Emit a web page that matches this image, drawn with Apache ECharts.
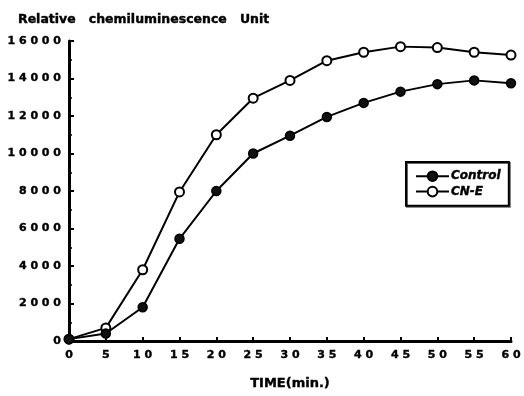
<!DOCTYPE html>
<html><head><meta charset="utf-8">
<script src="https://cdn.jsdelivr.net/npm/echarts@6/dist/echarts.min.js"></script>
<style>html,body{margin:0;padding:0;background:#fff}#c{width:524px;height:396px}</style>
</head><body><div id="c"></div>
<script>
var times = [0,5,10,15,20,25,30,35,40,45,50,55,60];
var control = [100,400,1800,5450,8000,10000,10950,11950,12700,13300,13700,13900,13750];
var cnE = [100,700,3800,7950,11000,12950,13900,14950,15400,15700,15650,15400,15250];
var seriesNames = ['Control','CN-E'];
var yTitle = 'Relative   chemiluminescence   Unit';
var xTitle = 'TIME(min.)';

function spaced(v){ return String(v).split('').join(' '); }
var font = 'DejaVu Sans';
var heavy = {fontFamily:font,fontWeight:'bold',color:'#000',textBorderColor:'#000',textBorderWidth:0.4};
function ts(extra){ var o={}; for(var k in heavy) o[k]=heavy[k]; for(var k2 in extra) o[k2]=extra[k2]; return o; }
var chart = echarts.init(document.getElementById('c'), null, {renderer:'canvas'});
chart.setOption({
  animation:false,
  backgroundColor:'#fff',
  grid:{left:69,right:13,top:41,bottom:55},
  title:{text:yTitle,left:13,top:8,textStyle:ts({fontSize:12.5})},
  legend:{
    left:406, top:162, orient:'vertical',
    padding:[8,8,8,9], itemGap:3, itemWidth:33, itemHeight:12,
    borderColor:'#000', borderWidth:2,
    shadowColor:'rgba(0,0,0,0.6)', shadowOffsetX:1, shadowOffsetY:1,
    textStyle:ts({fontStyle:'italic',fontSize:12,padding:[0,0,0,-3]}),
    data:seriesNames
  },
  xAxis:{
    type:'value', min:0, max:60, interval:5,
    name:xTitle, nameLocation:'middle', nameGap:36,
    nameTextStyle:ts({fontSize:13}),
    axisLine:{lineStyle:{color:'#000',width:3}},
    axisTick:{inside:true,length:4,lineStyle:{color:'#000',width:2}},
    axisLabel:ts({formatter:spaced,fontSize:11,margin:9}),
    splitLine:{show:false}
  },
  yAxis:{
    type:'value', min:0, max:16000, interval:2000,
    axisLine:{show:true,lineStyle:{color:'#000',width:3}},
    axisTick:{show:true,inside:true,length:5,lineStyle:{color:'#000',width:2}},
    minorTick:{show:true,splitNumber:2,length:3,lineStyle:{color:'#000',width:1.5}},
    axisLabel:ts({formatter:spaced,fontSize:11,margin:8}),
    splitLine:{show:false}
  },
  series:[
    {name:seriesNames[0],type:'line',data:times.map(function(t,i){return [t,control[i]];}),
     symbol:'circle',symbolSize:9,z:3,
     lineStyle:{color:'#000',width:2},
     itemStyle:{color:'#111',borderColor:'#000',borderWidth:1.5}},
    {name:seriesNames[1],type:'line',data:times.map(function(t,i){return [t,cnE[i]];}),
     symbol:'circle',symbolSize:9,z:2,
     lineStyle:{color:'#000',width:2},
     itemStyle:{color:'#fff',borderColor:'#000',borderWidth:2}}
  ]
});
</script></body></html>
